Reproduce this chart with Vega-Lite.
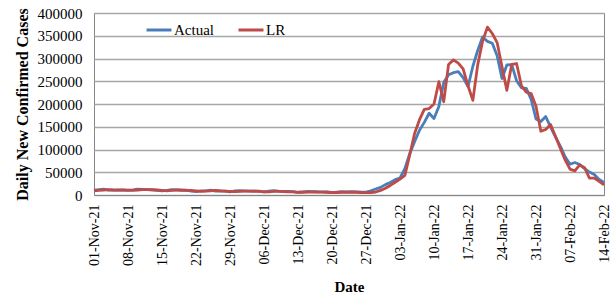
{
  "$schema": "https://vega.github.io/schema/vega-lite/v6.json",
  "width": 510,
  "height": 182,
  "autosize": "none",
  "padding": {"left": 94, "top": 13, "right": 12, "bottom": 103},
  "background": "white",
  "config": {
    "font": "Liberation Serif",
    "view": {"stroke": "#868686", "strokeWidth": 1}
  },
  "datasets": {
    "cases": [
      {"d": "2021-11-01", "Actual": 10423, "LR": 9000},
      {"d": "2021-11-02", "Actual": 11903, "LR": 10000},
      {"d": "2021-11-03", "Actual": 12729, "LR": 11000},
      {"d": "2021-11-04", "Actual": 10929, "LR": 12000},
      {"d": "2021-11-05", "Actual": 10826, "LR": 11000},
      {"d": "2021-11-06", "Actual": 11451, "LR": 10500},
      {"d": "2021-11-07", "Actual": 10853, "LR": 11000},
      {"d": "2021-11-08", "Actual": 10126, "LR": 10500},
      {"d": "2021-11-09", "Actual": 11466, "LR": 10000},
      {"d": "2021-11-10", "Actual": 13091, "LR": 11000},
      {"d": "2021-11-11", "Actual": 12516, "LR": 12000},
      {"d": "2021-11-12", "Actual": 11850, "LR": 12000},
      {"d": "2021-11-13", "Actual": 11271, "LR": 11500},
      {"d": "2021-11-14", "Actual": 10229, "LR": 11000},
      {"d": "2021-11-15", "Actual": 8865, "LR": 10000},
      {"d": "2021-11-16", "Actual": 10197, "LR": 9000},
      {"d": "2021-11-17", "Actual": 11919, "LR": 10000},
      {"d": "2021-11-18", "Actual": 11106, "LR": 11000},
      {"d": "2021-11-19", "Actual": 10302, "LR": 11000},
      {"d": "2021-11-20", "Actual": 10488, "LR": 10000},
      {"d": "2021-11-21", "Actual": 8488, "LR": 10000},
      {"d": "2021-11-22", "Actual": 7579, "LR": 9000},
      {"d": "2021-11-23", "Actual": 9283, "LR": 8000},
      {"d": "2021-11-24", "Actual": 9119, "LR": 8500},
      {"d": "2021-11-25", "Actual": 10549, "LR": 9000},
      {"d": "2021-11-26", "Actual": 8318, "LR": 10000},
      {"d": "2021-11-27", "Actual": 8774, "LR": 9000},
      {"d": "2021-11-28", "Actual": 8309, "LR": 8500},
      {"d": "2021-11-29", "Actual": 6990, "LR": 8000},
      {"d": "2021-11-30", "Actual": 8954, "LR": 7500},
      {"d": "2021-12-01", "Actual": 9765, "LR": 8000},
      {"d": "2021-12-02", "Actual": 9216, "LR": 8500},
      {"d": "2021-12-03", "Actual": 8603, "LR": 8500},
      {"d": "2021-12-04", "Actual": 8895, "LR": 8000},
      {"d": "2021-12-05", "Actual": 8306, "LR": 8000},
      {"d": "2021-12-06", "Actual": 6822, "LR": 7000},
      {"d": "2021-12-07", "Actual": 8439, "LR": 7000},
      {"d": "2021-12-08", "Actual": 9419, "LR": 8000},
      {"d": "2021-12-09", "Actual": 8503, "LR": 8000},
      {"d": "2021-12-10", "Actual": 7992, "LR": 7500},
      {"d": "2021-12-11", "Actual": 7774, "LR": 7000},
      {"d": "2021-12-12", "Actual": 7350, "LR": 7000},
      {"d": "2021-12-13", "Actual": 5784, "LR": 6000},
      {"d": "2021-12-14", "Actual": 6984, "LR": 6000},
      {"d": "2021-12-15", "Actual": 7974, "LR": 6500},
      {"d": "2021-12-16", "Actual": 7447, "LR": 7000},
      {"d": "2021-12-17", "Actual": 7145, "LR": 6500},
      {"d": "2021-12-18", "Actual": 7081, "LR": 6500},
      {"d": "2021-12-19", "Actual": 6563, "LR": 6000},
      {"d": "2021-12-20", "Actual": 5326, "LR": 5500},
      {"d": "2021-12-21", "Actual": 6317, "LR": 5500},
      {"d": "2021-12-22", "Actual": 7495, "LR": 6000},
      {"d": "2021-12-23", "Actual": 6650, "LR": 6000},
      {"d": "2021-12-24", "Actual": 7189, "LR": 6000},
      {"d": "2021-12-25", "Actual": 6987, "LR": 6000},
      {"d": "2021-12-26", "Actual": 6531, "LR": 5500},
      {"d": "2021-12-27", "Actual": 6358, "LR": 5000},
      {"d": "2021-12-28", "Actual": 9195, "LR": 5500},
      {"d": "2021-12-29", "Actual": 13154, "LR": 6500},
      {"d": "2021-12-30", "Actual": 16764, "LR": 10000},
      {"d": "2021-12-31", "Actual": 22775, "LR": 15000},
      {"d": "2022-01-01", "Actual": 27553, "LR": 21000},
      {"d": "2022-01-02", "Actual": 33750, "LR": 28000},
      {"d": "2022-01-03", "Actual": 37379, "LR": 35000},
      {"d": "2022-01-04", "Actual": 58097, "LR": 43000},
      {"d": "2022-01-05", "Actual": 90928, "LR": 88000},
      {"d": "2022-01-06", "Actual": 117100, "LR": 135000},
      {"d": "2022-01-07", "Actual": 141986, "LR": 165000},
      {"d": "2022-01-08", "Actual": 159632, "LR": 188000},
      {"d": "2022-01-09", "Actual": 179723, "LR": 190000},
      {"d": "2022-01-10", "Actual": 168063, "LR": 200000},
      {"d": "2022-01-11", "Actual": 194720, "LR": 249000},
      {"d": "2022-01-12", "Actual": 247417, "LR": 205000},
      {"d": "2022-01-13", "Actual": 264202, "LR": 287000},
      {"d": "2022-01-14", "Actual": 268833, "LR": 297000},
      {"d": "2022-01-15", "Actual": 271202, "LR": 290000},
      {"d": "2022-01-16", "Actual": 258089, "LR": 277000},
      {"d": "2022-01-17", "Actual": 238018, "LR": 240000},
      {"d": "2022-01-18", "Actual": 282970, "LR": 208000},
      {"d": "2022-01-19", "Actual": 317532, "LR": 286000},
      {"d": "2022-01-20", "Actual": 347254, "LR": 338000},
      {"d": "2022-01-21", "Actual": 337704, "LR": 369000},
      {"d": "2022-01-22", "Actual": 333533, "LR": 355000},
      {"d": "2022-01-23", "Actual": 306064, "LR": 335000},
      {"d": "2022-01-24", "Actual": 255874, "LR": 282000},
      {"d": "2022-01-25", "Actual": 285914, "LR": 230000},
      {"d": "2022-01-26", "Actual": 286384, "LR": 287000},
      {"d": "2022-01-27", "Actual": 251209, "LR": 289000},
      {"d": "2022-01-28", "Actual": 235532, "LR": 240000},
      {"d": "2022-01-29", "Actual": 234281, "LR": 226000},
      {"d": "2022-01-30", "Actual": 209918, "LR": 223000},
      {"d": "2022-01-31", "Actual": 167059, "LR": 195000},
      {"d": "2022-02-01", "Actual": 161386, "LR": 140000},
      {"d": "2022-02-02", "Actual": 172433, "LR": 144000},
      {"d": "2022-02-03", "Actual": 149394, "LR": 155000},
      {"d": "2022-02-04", "Actual": 127952, "LR": 129000},
      {"d": "2022-02-05", "Actual": 107474, "LR": 103000},
      {"d": "2022-02-06", "Actual": 83876, "LR": 77000},
      {"d": "2022-02-07", "Actual": 67597, "LR": 57000},
      {"d": "2022-02-08", "Actual": 71365, "LR": 53000},
      {"d": "2022-02-09", "Actual": 67084, "LR": 66000},
      {"d": "2022-02-10", "Actual": 58077, "LR": 60000},
      {"d": "2022-02-11", "Actual": 50407, "LR": 37000},
      {"d": "2022-02-12", "Actual": 44877, "LR": 37000},
      {"d": "2022-02-13", "Actual": 34113, "LR": 30000},
      {"d": "2022-02-14", "Actual": 27409, "LR": 22000}
    ]
  },
  "data": {"name": "cases"},
  "transform": [{"fold": ["Actual", "LR"], "as": ["series", "value"]}],
  "mark": {"type": "line", "strokeWidth": 2.8, "strokeJoin": "round", "clip": false},
  "encoding": {
    "x": {
      "field": "d",
      "type": "temporal",
      "scale": {"type": "utc", "domain": ["2021-11-01", "2022-02-14"], "nice": false},
      "axis": {
        "title": "Date",
        "titleFont": "Liberation Serif",
        "titleFontSize": 15,
        "titleFontWeight": "bold",
        "titleColor": "#000000",
        "titlePadding": 14,
        "labelExpr": "utcFormat(datum.value, '%d-%b-%y')",
        "values": ["2021-11-01", "2021-11-08", "2021-11-15", "2021-11-22", "2021-11-29", "2021-12-06", "2021-12-13", "2021-12-20", "2021-12-27", "2022-01-03", "2022-01-10", "2022-01-17", "2022-01-24", "2022-01-31", "2022-02-07", "2022-02-14"],
        "labelAngle": 270,
        "labelAlign": "right",
        "labelBaseline": "middle",
        "labelFontSize": 14,
        "labelColor": "#000000",
        "labelPadding": 9,
        "labelOverlap": false,
        "labelBound": false,
        "labelFlush": false,
        "ticks": false,
        "grid": false,
        "domain": true,
        "domainColor": "#868686"
      }
    },
    "y": {
      "field": "value",
      "type": "quantitative",
      "scale": {"domain": [0, 400000], "nice": false},
      "axis": {
        "title": "Daily  New  Confirmed  Cases",
        "titleFont": "Liberation Serif",
        "titleFontSize": 16,
        "titleFontWeight": "bold",
        "titleColor": "#000000",
        "titlePadding": 7,
        "values": [0, 50000, 100000, 150000, 200000, 250000, 300000, 350000, 400000],
        "format": "d",
        "labelFontSize": 15,
        "labelColor": "#000000",
        "labelPadding": 12,
        "ticks": false,
        "domain": false,
        "grid": true,
        "gridColor": "#a6a6a6",
        "gridWidth": 1.3
      }
    },
    "color": {
      "field": "series",
      "type": "nominal",
      "scale": {"domain": ["Actual", "LR"], "range": ["#4a7ebb", "#be4b48"]},
      "legend": {
        "title": null,
        "orient": "none",
        "legendX": 51,
        "legendY": 3,
        "direction": "horizontal",
        "symbolType": "stroke",
        "symbolSize": 625,
        "symbolStrokeWidth": 3,
        "labelFont": "Liberation Serif",
        "labelFontSize": 15,
        "labelColor": "#000000",
        "labelOffset": 1,
        "columnPadding": 18
      }
    }
  }
}
